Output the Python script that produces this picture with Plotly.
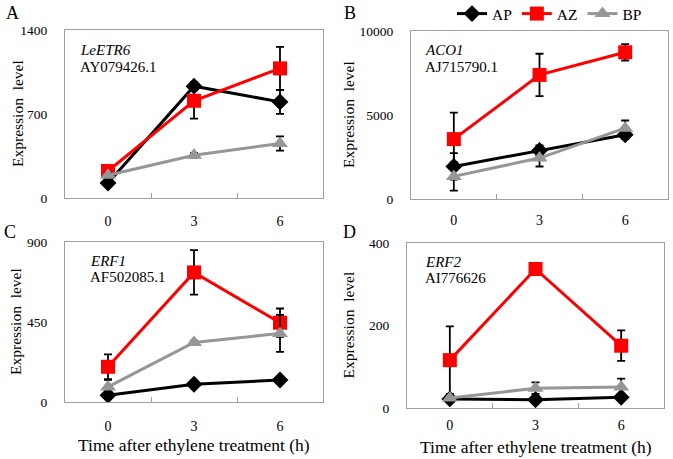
import plotly.graph_objects as go

W, H = 673, 459

times = ["0", "3", "6"]
series = ["AP", "AZ", "BP"]

# Panel A: LeETR6
A_AP = [125, 932, 801]; A_AP_err = [30, 35, 100]
A_AZ = [225, 810, 1080]; A_AZ_err = [20, 148, 180]
A_BP = [189, 356, 454]; A_BP_err = [20, 20, 60]
# Panel B: ACO1
B_AP = [1940, 2890, 3820]; B_AP_err = [790, 300, 250]
B_AZ = [3564, 7386, 8733]; B_AZ_err = [1580, 1260, 490]
B_BP = [1346, 2436, 4218]; B_BP_err = [850, 500, 455]
# Panel C: ERF1
C_AP = [38, 100, 124]; C_AP_err = [8, 10, 10]
C_AZ = [198, 729, 446]; C_AZ_err = [70, 125, 80]
C_BP = [85, 335, 386]; C_BP_err = [40, 10, 104]
# Panel D: ERF2
D_AP = [22, 20, 26]; D_AP_err = [2, 2, 2]
D_AZ = [116, 337, 151]; D_AZ_err = [82, 4, 37]
D_BP = [24, 48, 51]; D_BP_err = [4, 14, 20]

panels = [
    dict(letter="A", gene="LeETR6", acc="AY079426.1", ymax=1400, dt=700,
         data=[(A_AP, A_AP_err), (A_AZ, A_AZ_err), (A_BP, A_BP_err)],
         box=(65, 323, 30, 198), lx=12, ly=13, tx=17, gx=78, gy=51.5, so=10),
    dict(letter="B", gene="ACO1", acc="AJ715790.1", ymax=10000, dt=5000,
         data=[(B_AP, B_AP_err), (B_AZ, B_AZ_err), (B_BP, B_BP_err)],
         box=(411, 668, 31, 199), lx=350, ly=13, tx=349, gx=423, gy=51.5, so=8),
    dict(letter="C", gene="ERF1", acc="AF502085.1", ymax=900, dt=450,
         data=[(C_AP, C_AP_err), (C_AZ, C_AZ_err), (C_BP, C_BP_err)],
         box=(65, 323, 242, 402), lx=10, ly=232, tx=15, gx=88, gy=262, so=11),
    dict(letter="D", gene="ERF2", acc="AI776626", ymax=400, dt=200,
         data=[(D_AP, D_AP_err), (D_AZ, D_AZ_err), (D_BP, D_BP_err)],
         box=(407, 664, 243, 408), lx=349, ly=232, tx=348, gx=423, gy=262.5, so=4),
]

styles = {
    "AP": dict(color="black", symbol="diamond", size=13),
    "AZ": dict(color="#FF0000", symbol="square", size=14),
    "BP": dict(color="#969696", symbol="triangle-up", size=14),
}

FONT = "Liberation Serif"
fig = go.Figure()
ann = []
layout = {}


def px_ann(text, x, y, size, **kw):
    d = dict(text=text, x=x / W, y=1 - y / H, xref="paper", yref="paper",
             showarrow=False, xanchor="center", yanchor="middle",
             font=dict(family=FONT, size=size, color="black"))
    d.update(kw)
    return d


for i, p in enumerate(panels):
    n = "" if i == 0 else str(i + 1)
    x0, x1, y0, y1 = p["box"]
    layout["xaxis" + n] = dict(
        domain=[x0 / W, x1 / W], anchor="y" + n, range=[-0.5, 2.5],
        tickvals=[0, 1, 2], ticktext=times, ticks="", showgrid=False,
        zeroline=False, showline=True, mirror=True, linecolor="#A0A0A0",
        linewidth=1.2, ticklabelstandoff=p["so"], automargin=False,
        tickfont=dict(family=FONT, size=14, color="black"),
        minor=dict(tickvals=[0.5, 1.5], ticks="inside", ticklen=5,
                   tickcolor="#A0A0A0", tickwidth=1, showgrid=False),
    )
    yt = [0, p["dt"], p["ymax"]]
    layout["yaxis" + n] = dict(
        domain=[1 - y1 / H, 1 - y0 / H], anchor="x" + n,
        range=[0, p["ymax"]], tickvals=yt, ticktext=[str(v) for v in yt],
        ticks="", showgrid=False, zeroline=False, showline=True, mirror=True,
        linecolor="#A0A0A0", linewidth=1.2, ticklabelstandoff=14,
        automargin=False,
        tickfont=dict(family=FONT, size=13.5, color="black"),
    )
    for s, (vals, errs) in zip(series, p["data"]):
        st = styles[s]
        fig.add_trace(go.Scatter(
            x=[0, 1, 2], y=vals, name=s, xaxis="x" + n, yaxis="y" + n,
            mode="lines+markers", showlegend=(i == 0), legendgroup=s,
            line=dict(color=st["color"], width=3),
            marker=dict(color=st["color"], symbol=st["symbol"], size=st["size"]),
            error_y=dict(type="data", array=errs, visible=True, color="black",
                         thickness=1.8, width=4),
        ))
    ann.append(px_ann(p["letter"], p["lx"], p["ly"], 18))
    ann.append(px_ann("Expression  level", p["tx"], (y0 + y1) / 2, 15.5,
                      textangle=-90))
    ann.append(px_ann("<i>" + p["gene"] + "</i>", p["gx"], p["gy"] - 1, 15,
                      xanchor="left"))
    ann.append(px_ann(p["acc"], p["gx"], p["gy"] + 15, 15,
                      xanchor="left"))

for xc, yc in [((65 + 323) / 2, 445), ((407 + 664) / 2, 447)]:
    ann.append(px_ann("Time after ethylene treatment (h)", xc, yc, 17.5))

fig.update_layout(
    width=W, height=H, margin=dict(l=0, r=0, t=0, b=0, autoexpand=False),
    paper_bgcolor="white", plot_bgcolor="white",
    annotations=ann,
    legend=dict(orientation="h", x=452 / W, y=1 - 14 / H, xanchor="left",
                yanchor="middle",
                font=dict(family=FONT, size=15.5, color="black"),
                bgcolor="rgba(0,0,0,0)", itemwidth=30, tracegroupgap=0),
    **layout,
)

fig.write_html("out.html", config={"displayModeBar": False},
               post_script="document.body.style.margin='0';"
                           "document.body.style.padding='0';")
